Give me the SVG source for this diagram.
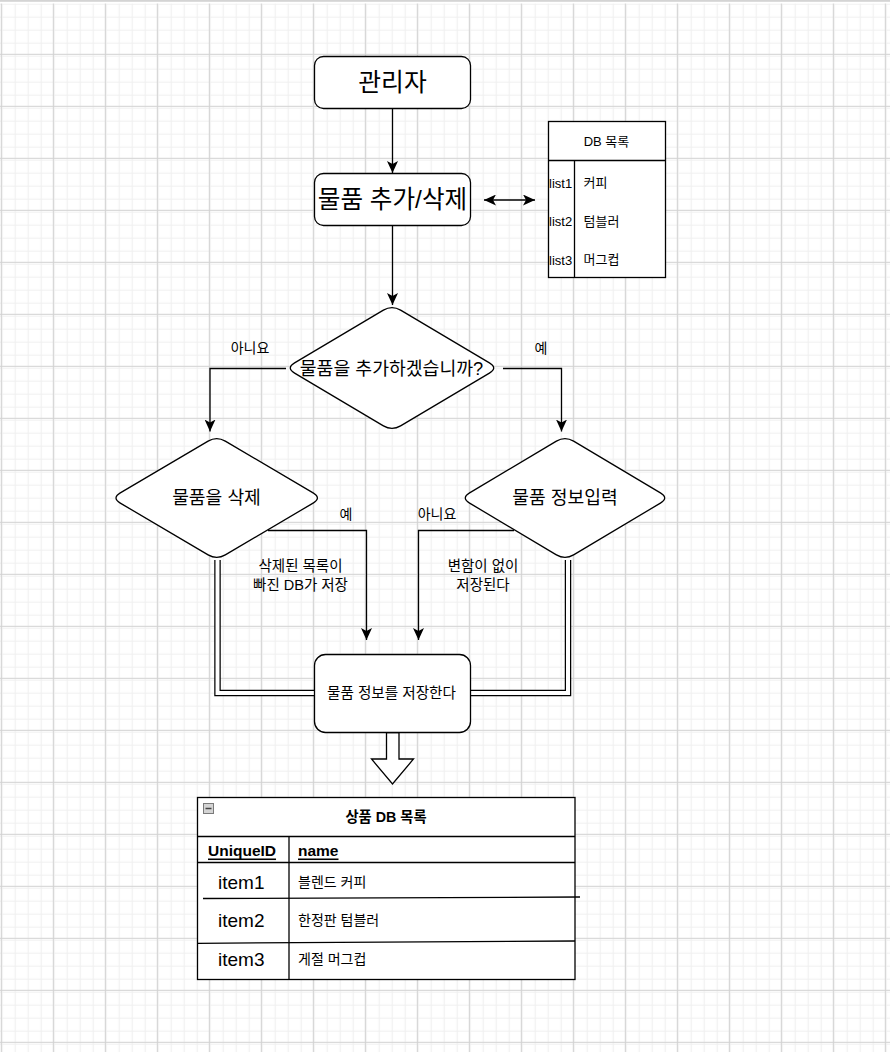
<svg xmlns="http://www.w3.org/2000/svg" width="890" height="1052" viewBox="0 0 890 1052">
  <defs>
    <pattern id="gridMinor" width="13" height="13" x="0.8" y="1.8" patternUnits="userSpaceOnUse">
      <path d="M0.5 0 V13 M0 0.5 H13" fill="none" stroke="#efefef" stroke-width="1.2"/>
    </pattern>
    <pattern id="gridMajor" width="52" height="52" x="0.8" y="1.8" patternUnits="userSpaceOnUse">
      <rect width="52" height="52" fill="url(#gridMinor)"/>
      <path d="M0.5 0 V52 M0 0.5 H52" fill="none" stroke="#d2d2d2" stroke-width="1"/>
    </pattern>
    <marker id="arrow" markerUnits="userSpaceOnUse" markerWidth="12" markerHeight="11" refX="12" refY="5.5" orient="auto-start-reverse">
      <path d="M0,0 L12,5.5 L0,11 L3,5.5 Z" fill="#000"/>
    </marker>
    <style>
      .shape { fill: #fff; stroke: #000; stroke-width: 1.3; }
      .edge { fill: none; stroke: #000; stroke-width: 1.3; }
      .link-outer { fill: none; stroke: #000; stroke-width: 6.5; }
      .link-inner { fill: none; stroke: #fff; stroke-width: 4; }
      .rule { stroke: #000; stroke-width: 1.3; }
      text { font-family: "Liberation Sans", "Noto Sans CJK KR", sans-serif; fill: #000; }
      .c { text-anchor: middle; dominant-baseline: central; }
      .l { dominant-baseline: central; }
      .b { font-weight: bold; }
      .u { text-decoration: underline; }
    </style>
  </defs>

  <!-- canvas background -->
  <rect width="890" height="1052" fill="#fff"/>
  <rect x="0" y="3.5" width="890" height="1048.5" fill="url(#gridMajor)"/>
  <rect x="0" y="0" width="890" height="1.8" fill="#d4d4d4"/>

  <!-- connectors -->
  <g id="connectors">
    <path class="edge" d="M392.5,108.5 V173" marker-end="url(#arrow)"/>
    <path class="edge" d="M484,200 H535" marker-start="url(#arrow)" marker-end="url(#arrow)"/>
    <path class="edge" d="M392.5,226 V305" marker-end="url(#arrow)"/>
    <path class="edge" d="M286,368.5 H210 V431.5" marker-end="url(#arrow)"/>
    <path class="edge" d="M503,368.5 H561.5 V431.5" marker-end="url(#arrow)"/>
    <path class="edge" d="M268,530.5 H366.5 V640" marker-end="url(#arrow)"/>
    <path class="edge" d="M514,530.5 H418.5 V640" marker-end="url(#arrow)"/>
    <path class="link-outer" d="M217.5,560 V693 H314.5"/>
    <path class="link-inner" d="M217.5,559 V693 H315"/>
    <path class="link-outer" d="M568,560 V693 H470"/>
    <path class="link-inner" d="M568,559 V693 H469.5"/>
    <polygon class="shape" points="386.5,732.5 399,732.5 399,759 413.5,759 392.5,784 371.5,759 386.5,759"/>
    <text class="c" x="250" y="348" font-size="14">아니요</text>
    <text class="c" x="541" y="348" font-size="14">예</text>
    <text class="c" x="346" y="514" font-size="14">예</text>
    <text class="c" x="437" y="514" font-size="14">아니요</text>
    <text class="c" x="300.5" y="566" font-size="14.5">삭제된 목록이</text>
    <text class="c" x="300.5" y="585" font-size="14.5">빠진 DB가 저장</text>
    <text class="c" x="483" y="566" font-size="14.5">변함이 없이</text>
    <text class="c" x="483" y="585" font-size="14.5">저장된다</text>
  </g>

  <!-- start: administrator -->
  <g id="admin">
    <rect class="shape" x="314.5" y="56.5" width="156" height="52" rx="9"/>
    <text class="c" x="392.5" y="82" font-size="24.8">관리자</text>
  </g>

  <!-- add / delete item -->
  <g id="add-delete">
    <rect class="shape" x="314.5" y="173.5" width="156" height="52" rx="9"/>
    <text class="c" x="392.5" y="199.5" font-size="24.6">물품 추가/삭제</text>
  </g>

  <!-- small DB list -->
  <g id="db-list">
    <rect class="shape" x="548.5" y="121.5" width="117" height="156"/>
    <line class="rule" x1="548.5" y1="160.5" x2="665.5" y2="160.5"/>
    <line class="rule" x1="574.5" y1="160.5" x2="574.5" y2="277.5"/>
    <text class="c" x="606.5" y="141" font-size="13">DB 목록</text>
    <text class="l" x="549" y="183" font-size="13">list1</text>
    <text class="l" x="549" y="221.5" font-size="13">list2</text>
    <text class="l" x="549" y="260" font-size="13">list3</text>
    <text class="l" x="583.5" y="182.5" font-size="13">커피</text>
    <text class="l" x="583.5" y="221" font-size="13">텀블러</text>
    <text class="l" x="583.5" y="259.5" font-size="13">머그컵</text>
  </g>

  <!-- decision: add? -->
  <g id="decision-add">
    <path class="shape" d="M400.6,310.1 L489.4,362.9 Q498,368 489.4,373.1 L400.6,425.9 Q392,431 383.4,425.9 L294.6,373.1 Q286,368 294.6,362.9 L383.4,310.1 Q392,305 400.6,310.1 Z"/>
    <text class="c" x="391.5" y="368" font-size="18.3">물품을 추가하겠습니까?</text>
  </g>

  <!-- decision: delete -->
  <g id="decision-delete">
    <path class="shape" d="M225.3,441.1 L313.1,492.9 Q321.7,498 313.1,503.1 L225.3,554.9 Q216.7,560 208.1,554.9 L120.3,503.1 Q111.7,498 120.3,492.9 L208.1,441.1 Q216.7,436 225.3,441.1 Z"/>
    <text class="c" x="216.5" y="497.5" font-size="18.2">물품을 삭제</text>
  </g>

  <!-- decision: enter info -->
  <g id="decision-input">
    <path class="shape" d="M573.6,441.1 L660.4,492.9 Q669,498 660.4,503.1 L573.6,554.9 Q565,560 556.4,554.9 L469.6,503.1 Q461,498 469.6,492.9 L556.4,441.1 Q565,436 573.6,441.1 Z"/>
    <text class="c" x="565" y="497.5" font-size="18.2">물품 정보입력</text>
  </g>

  <!-- save -->
  <g id="save">
    <rect class="shape" x="314.5" y="654.5" width="156" height="78" rx="11"/>
    <text class="c" x="391.5" y="693" font-size="14.6">물품 정보를 저장한다</text>
  </g>

  <!-- product DB table -->
  <g id="product-db">
    <rect class="shape" x="197.5" y="797.5" width="377.5" height="182"/>
    <line class="rule" x1="197.5" y1="836.5" x2="575" y2="836.5"/>
    <line class="rule" x1="197.5" y1="862.5" x2="575" y2="862.5"/>
    <line class="rule" x1="289" y1="836.5" x2="289" y2="979.5"/>
    <line class="rule" x1="203" y1="898.5" x2="580" y2="897"/>
    <line class="rule" x1="197.5" y1="943.3" x2="575" y2="941"/>
    <rect x="203.5" y="803.5" width="10" height="10" fill="#d4d4d4" stroke="#7a7a7a" stroke-width="1"/>
    <line x1="205.5" y1="808.5" x2="211.5" y2="808.5" stroke="#444" stroke-width="1.5"/>
    <text class="c b" x="386" y="817" font-size="14.3">상품 DB 목록</text>
    <text class="l b u" x="208" y="850" font-size="15.5">UniqueID</text>
    <text class="l b u" x="298" y="850" font-size="15.5">name</text>
    <text class="l" x="218" y="882.5" font-size="19">item1</text>
    <text class="l" x="218" y="920.5" font-size="19">item2</text>
    <text class="l" x="218" y="959" font-size="19">item3</text>
    <text class="l" x="298" y="882" font-size="14">블렌드 커피</text>
    <text class="l" x="298" y="920" font-size="14">한정판 텀블러</text>
    <text class="l" x="298" y="958.5" font-size="14">게절 머그컵</text>
  </g>
</svg>
